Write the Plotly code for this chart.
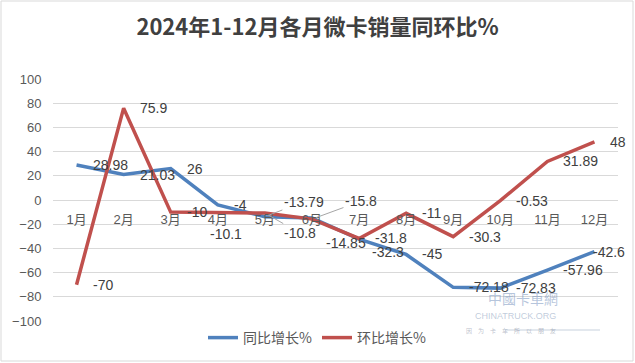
import plotly.graph_objects as go

# ---- data ----
months = ["1月", "2月", "3月", "4月", "5月", "6月", "7月", "8月", "9月", "10月", "11月", "12月"]
yoy = [28.98, 21.03, 26, -4, -13.79, -14.85, -32.3, -45, -72.18, -72.83, -57.96, -42.6]
mom = [-70, 75.9, -10, -10.1, -10.8, -15.8, -31.8, -11, -30.3, -0.53, 31.89, 48]
y_ticks = [-100, -80, -60, -40, -20, 0, 20, 40, 60, 80, 100]

# ---- style ----
W, H = 635, 363
ML, MR, MT, MB = 53, 17, 79, 42
BLUE = "#4F81BD"
RED = "#C0504D"
GRID = "#D9D9D9"
TXT = "#595959"
NUMFONT = "Liberation Sans, Noto Sans CJK SC"
CJK = "Noto Sans CJK SC"

pw, ph = W - ML - MR, H - MT - MB


def px_x(px):
    return (px - ML) / pw


def px_y(py):
    return (H - MB - py) / ph


fig = go.Figure()
fig.add_trace(go.Scatter(x=months, y=yoy, mode="lines", name="同比增长%",
                         line=dict(color=BLUE, width=3.5)))
fig.add_trace(go.Scatter(x=months, y=mom, mode="lines", name="环比增长%",
                         line=dict(color=RED, width=3.5)))

# data labels (default: right of the point); a few were moved by hand in the original
# offsets are screen pixels (dx right, dy down)
overrides = {
    ("yoy", 4): dict(arrow=(39, -15)),
    ("mom", 4): dict(arrow=(35, 20)),
    ("mom", 5): dict(arrow=(49, -18)),
    ("yoy", 5): dict(shift=(34, 25)),
    ("yoy", 6): dict(shift=(29, 13)),
    ("mom", 3): dict(shift=(8, 22)),
    ("yoy", 11): dict(shift=(15, 0)),
}

annotations = []
for key, series in (("yoy", yoy), ("mom", mom)):
    for i, (m, v) in enumerate(zip(months, series)):
        txt = f"{v:g}"
        base = dict(x=m, y=v, xref="x", yref="y", text=txt,
                    font=dict(family=NUMFONT, size=14, color="#404040"))
        ov = overrides.get((key, i))
        if ov is None:
            base.update(showarrow=False, xanchor="left", yanchor="middle", xshift=14)
        elif "arrow" in ov:
            ax, ay = ov["arrow"]
            base.update(showarrow=True, ax=ax, ay=ay, arrowhead=0, arrowwidth=1,
                        arrowcolor="#A6A6A6", standoff=4, xanchor="center", yanchor="middle")
        else:
            dx, dy = ov["shift"]
            base.update(showarrow=False, xanchor="center", yanchor="middle",
                        xshift=dx, yshift=-dy)
        annotations.append(base)

# watermark
annotations += [
    dict(x=px_x(560), y=px_y(310), xref="paper", yref="paper", text="中國卡車網",
         showarrow=False, font=dict(family=CJK, size=14, color="rgba(110,140,185,0.5)")),
    dict(x=px_x(558), y=px_y(323), xref="paper", yref="paper", text="CHINATRUCK.ORG",
         showarrow=False, font=dict(family=NUMFONT, size=9, color="rgba(140,160,190,0.55)")),
    dict(x=px_x(558), y=px_y(337), xref="paper", yref="paper",
         text="因　为　卡　车　所　以　朋　友",
         showarrow=False, font=dict(family=CJK, size=6, color="rgba(120,130,150,0.5)")),
]

shapes = [
    dict(type="rect", xref="paper", yref="paper",
         x0=px_x(1), x1=px_x(633), y0=px_y(361), y1=px_y(1),
         line=dict(color=GRID, width=1), fillcolor="rgba(0,0,0,0)", layer="below"),
    dict(type="line", xref="paper", yref="paper",
         x0=px_x(505), x1=px_x(600), y0=px_y(330), y1=px_y(330),
         line=dict(color="rgba(130,150,180,0.45)", width=1)),
]

fig.update_layout(
    width=W, height=H,
    margin=dict(l=ML, r=MR, t=MT, b=MB, autoexpand=False),
    paper_bgcolor="white", plot_bgcolor="white",
    title=dict(text="<b>2024年1-12月各月微卡销量同环比%</b>", x=0.5, xanchor="center",
               y=1 - 27 / H, yanchor="middle", xref="container", yref="container",
               font=dict(family=CJK, size=22, color="#404040")),
    xaxis=dict(type="category", range=[-0.5, 11.5], showgrid=False, showline=False,
               zeroline=False, anchor="free", position=0.5, automargin=False,
               ticks="outside", ticklen=7, tickcolor="rgba(0,0,0,0)",
               tickfont=dict(family=NUMFONT, size=13, color=TXT)),
    yaxis=dict(range=[-100, 100], tickvals=y_ticks, showgrid=True, gridcolor=GRID,
               gridwidth=1, zeroline=False, showline=False, automargin=False,
               ticks="outside", ticklen=8, tickcolor="rgba(0,0,0,0)",
               tickfont=dict(family=NUMFONT, size=13, color=TXT)),
    legend=dict(orientation="h", x=px_x(317), xanchor="center", y=px_y(338),
                yanchor="middle", font=dict(family=CJK, size=14, color=TXT),
                bgcolor="rgba(0,0,0,0)"),
    annotations=annotations,
    shapes=shapes,
    showlegend=True,
)

fig.write_html("out.html", config={"displayModeBar": False},
               post_script="document.body.style.margin='0';document.body.style.overflow='hidden';")
